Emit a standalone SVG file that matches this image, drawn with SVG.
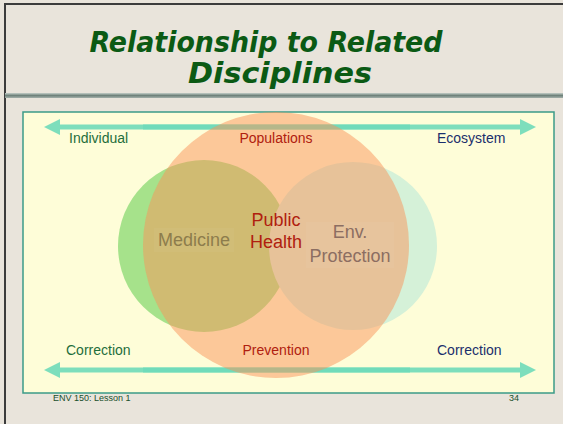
<svg xmlns="http://www.w3.org/2000/svg" width="563" height="424" viewBox="0 0 563 424">
  <defs>
    <linearGradient id="rule" x1="0" y1="0" x2="0" y2="1">
      <stop offset="0" stop-color="#c4cec8"/>
      <stop offset="0.5" stop-color="#6f827b"/>
      <stop offset="1" stop-color="#a4b0aa"/>
    </linearGradient>
    <style>
      .lbl { font-family: "Liberation Sans", Arial, sans-serif; font-size: 14px; }
      .big { font-family: "Liberation Sans", Arial, sans-serif; font-size: 18px; text-anchor: middle; }
      .grn { fill: #1f6e3c; }
      .red { fill: #b0200f; }
      .navy { fill: #1b2f6c; }
      .arrow { fill: #6fdab9; opacity: 0.9; }
      .foot { font-family: "Liberation Sans", Arial, sans-serif; font-size: 9px; fill: #1a4f2b; }
    </style>
  </defs>

  <!-- slide background -->
  <rect x="0" y="0" width="563" height="424" fill="#e9e4db"/>
  <path d="M5 424 V4 H563" fill="none" stroke="#3c3c3c" stroke-width="2"/>
  <rect x="5" y="93" width="558" height="5" fill="url(#rule)"/>

  <!-- title -->
  <g id="title" font-family="'DejaVu Sans', sans-serif" font-weight="bold" font-style="italic" font-size="28" fill="#0b5a14" text-anchor="middle">
    <text x="266" y="52" textLength="353" lengthAdjust="spacingAndGlyphs">Relationship to Related</text>
    <text x="280" y="83" textLength="184" lengthAdjust="spacingAndGlyphs">Disciplines</text>
  </g>

  <!-- panel -->
  <rect id="panel" x="23" y="112" width="531" height="281" fill="#fefdd8" stroke="#3b9a88" stroke-width="1.5"/>

  <!-- connectors -->
  <g id="connectors">
    <path class="arrow" d="M44 127 L60 119 L60 124.5 L410 124.5 L410 129.5 L60 129.5 L60 135 Z"/>
    <path class="arrow" d="M536 127 L520 119 L520 124.5 L143 124.5 L143 129.5 L520 129.5 L520 135 Z"/>
    <path class="arrow" d="M44 370 L60 362 L60 367.5 L410 367.5 L410 372.5 L60 372.5 L60 378 Z"/>
    <path class="arrow" d="M536 370 L520 362 L520 367.5 L143 367.5 L143 372.5 L520 372.5 L520 378 Z"/>
  </g>

  <!-- circles -->
  <g id="medicine">
    <circle cx="204" cy="246" r="86" fill="#a6e28b"/>
  </g>
  <g id="env-protection">
    <circle cx="353" cy="246" r="84" fill="#d5f1d8"/>
  </g>
  <g id="public-health">
    <circle cx="276" cy="245" r="133" fill="#fa945a" fill-opacity="0.5"/>
  </g>

  <!-- circle labels -->
  <g id="medicine-label">
    <rect x="154" y="228" width="80" height="24" fill="#ffffff" fill-opacity="0.04"/>
    <text class="big" x="194" y="246" fill="#8d7c4c">Medicine</text>
  </g>
  <g id="public-health-label">
    <text class="big red" x="276" y="226">Public</text>
    <text class="big red" x="276" y="248">Health</text>
  </g>
  <g id="env-protection-label">
    <rect x="306" y="222" width="88" height="46" fill="#ffffff" fill-opacity="0.04"/>
    <text class="big" x="350" y="238" fill="#8c6e62">Env.</text>
    <text class="big" x="350" y="262" fill="#8c6e62">Protection</text>
  </g>

  <!-- axis labels -->
  <g id="top-labels">
    <text class="lbl grn" x="69" y="143">Individual</text>
    <text class="lbl red" x="276" y="143" text-anchor="middle">Populations</text>
    <text class="lbl navy" x="437" y="143">Ecosystem</text>
  </g>
  <g id="bottom-labels">
    <text class="lbl grn" x="66" y="355">Correction</text>
    <text class="lbl red" x="276" y="355" text-anchor="middle">Prevention</text>
    <text class="lbl navy" x="437" y="355">Correction</text>
  </g>

  <!-- footer -->
  <g id="footer">
    <text class="foot" x="53" y="401">ENV 150: Lesson 1</text>
    <text class="foot" x="509" y="401">34</text>
  </g>
</svg>
